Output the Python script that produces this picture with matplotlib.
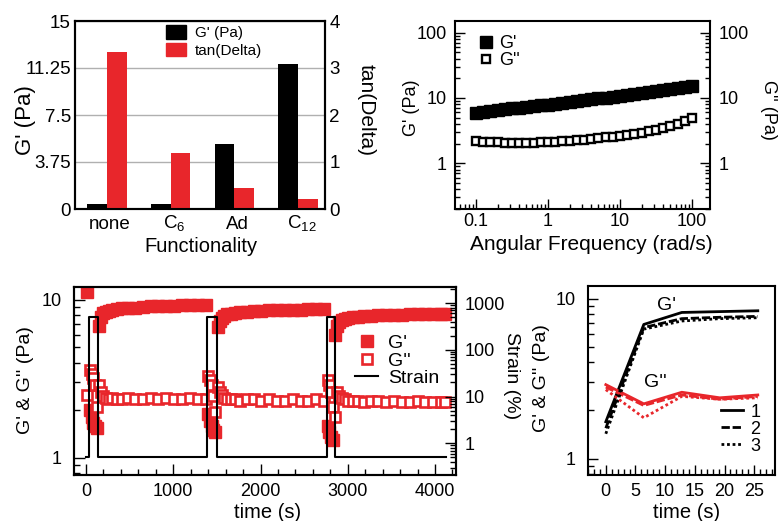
import numpy as np
import matplotlib
matplotlib.use('Agg')
import matplotlib.pyplot as plt
from matplotlib.ticker import LogLocator, NullFormatter, MultipleLocator
from matplotlib.patches import Patch
from matplotlib.transforms import blended_transform_factory

plt.rcParams['font.family'] = ['Liberation Sans', 'DejaVu Sans']
plt.rcParams['mathtext.fontset'] = 'custom'
plt.rcParams['mathtext.rm'] = 'Liberation Sans'
plt.rcParams['axes.linewidth'] = 1.5

RED = '#e8262b'
W, H = 778, 521

# ---- panel A: modulus and tan(delta) per end group
functionality = ['none', 'C$_{\\mathregular{6}}$', 'Ad', 'C$_{\\mathregular{12}}$']
storage_modulus = [0.4, 0.4, 5.2, 11.6]
tan_delta = [3.34, 1.19, 0.45, 0.22]

# ---- panel B: frequency sweep
freq = [0.1, 0.126, 0.158, 0.2, 0.251, 0.316, 0.398, 0.501, 0.631, 0.794,
        1, 1.26, 1.58, 2, 2.51, 3.16, 3.98, 5.01, 6.31, 7.94,
        10, 12.6, 15.8, 20, 25.1, 31.6, 39.8, 50.1, 63.1, 79.4, 100]
gp_freq = [5.9, 6.1, 6.3, 6.5, 6.7, 6.9, 7.1, 7.3, 7.5, 7.7,
           7.9, 8.2, 8.4, 8.7, 8.9, 9.2, 9.5, 9.8, 10.1, 10.4,
           10.8, 11.1, 11.5, 11.9, 12.3, 12.7, 13.2, 13.7, 14.2, 14.7, 15.2]
gpp_freq = [2.2, 2.15, 2.1, 2.1, 2.05, 2.05, 2.05, 2.05, 2.05, 2.1,
            2.1, 2.15, 2.2, 2.2, 2.25, 2.3, 2.35, 2.4, 2.5, 2.55,
            2.65, 2.75, 2.85, 2.95, 3.1, 3.25, 3.45, 3.7, 4.0, 4.5, 5.0]

# ---- panel C: step strain recovery, three cycles
t1 = [15, 45, 65, 85, 105, 125, 150, 170, 195, 225, 260, 300, 350, 410, 480,
      560, 650, 740, 830, 920, 1010, 1100, 1190, 1280, 1375]
gp1 = [11.2, 2.0, 1.8, 1.65, 1.6, 1.55, 6.8, 7.8, 8.2, 8.4, 8.5, 8.6, 8.7, 8.8, 8.85,
       8.9, 9.0, 9.05, 9.1, 9.1, 9.15, 9.2, 9.2, 9.25, 9.25]
gpp1 = [2.5, 3.6, 3.4, 3.2, 2.9, 2.1, 2.9, 2.6, 2.45, 2.4, 2.35, 2.4, 2.35, 2.35, 2.4,
        2.35, 2.35, 2.4, 2.35, 2.4, 2.35, 2.35, 2.4, 2.35, 2.35]
t2 = [1400, 1420, 1440, 1460, 1480, 1510, 1530, 1555, 1585, 1620, 1660, 1710, 1770,
      1840, 1920, 2010, 2100, 2190, 2280, 2370, 2460, 2550, 2640, 2730]
gp2 = [1.9, 1.7, 1.6, 1.5, 1.45, 6.7, 7.3, 7.7, 7.9, 8.05, 8.15, 8.25, 8.35,
       8.4, 8.45, 8.5, 8.55, 8.6, 8.6, 8.65, 8.65, 8.7, 8.7, 8.75]
gpp2 = [3.3, 3.1, 2.9, 2.45, 1.95, 2.8, 2.6, 2.5, 2.4, 2.35, 2.35, 2.35, 2.3,
        2.35, 2.35, 2.3, 2.35, 2.3, 2.3, 2.35, 2.3, 2.3, 2.35, 2.3]
t3 = [2770, 2790, 2810, 2830, 2855, 2875, 2900, 2930, 2965, 3005, 3055, 3115, 3185,
      3265, 3350, 3440, 3530, 3620, 3710, 3800, 3890, 3980, 4070, 4120]
gp3 = [1.6, 1.45, 1.35, 1.3, 6.0, 6.8, 7.2, 7.4, 7.55, 7.65, 7.75, 7.8, 7.85,
       7.9, 7.95, 7.95, 8.0, 8.0, 8.05, 8.05, 8.05, 8.1, 8.1, 8.1]
gpp3 = [3.1, 2.9, 2.6, 2.1, 1.8, 2.6, 2.45, 2.4, 2.35, 2.3, 2.3, 2.3, 2.25,
        2.3, 2.3, 2.25, 2.3, 2.25, 2.25, 2.3, 2.25, 2.25, 2.25, 2.25]
strain_time = [0, 35, 140, 1390, 1505, 2760, 2850, 4130]
strain = [0.5, 500, 0.5, 500, 0.5, 500, 0.5, 0.5]

# ---- panel D: first recovery points of each cycle
time_d = [0, 6.4, 12.8, 19.2, 25.6]
gp_cycles = [[1.7, 6.9, 8.2, 8.3, 8.4],
             [1.55, 6.6, 7.5, 7.65, 7.75],
             [1.43, 6.45, 7.25, 7.5, 7.6]]
gpp_cycles = [[2.9, 2.2, 2.6, 2.4, 2.5],
              [2.8, 2.15, 2.5, 2.35, 2.45],
              [2.7, 1.8, 2.45, 2.35, 2.4]]
cycle_names = ['1', '2', '3']
cycle_styles = ['-', (0, (3, 1)), (0, (1, 1))]


def box(left, top, right, bottom):
    return [left / W, 1 - bottom / H, (right - left) / W, (bottom - top) / H]


def at(x, y):
    return x / W, 1 - y / H


def log_minor(axis):
    axis.set_minor_locator(LogLocator(base=10, subs=np.arange(2, 10), numticks=20))
    axis.set_minor_formatter(NullFormatter())


fig = plt.figure(figsize=(7.78, 5.21), dpi=100)

# panel A
axA = fig.add_axes(box(75, 21, 325, 209))
x = np.arange(len(functionality))
bw = 0.31
axA.bar(x - bw / 2, storage_modulus, bw, color='black', zorder=3)
axA.set_xlim(-0.5, 3.42)
axA.set_ylim(0, 15)
axA.set_yticks([0, 3.75, 7.5, 11.25, 15])
axA.set_yticklabels(['0', '3.75', '7.5', '11.25', '15'])
axA.set_xticks(x)
axA.set_xticklabels([])
# category names on a common baseline (subscripts hang below)
trA = blended_transform_factory(axA.transData, axA.transAxes)
for xi, name in zip(x, functionality):
    axA.text(xi + 0.05, -0.105, name, transform=trA, ha='center', va='baseline',
             fontsize=13.5)
axA.yaxis.grid(True, color='#b0b0b0', lw=1, zorder=0)
axA.set_axisbelow(True)
axA.tick_params(length=0, labelsize=13.5)
axA.tick_params(axis='y', pad=3)
axA2 = axA.twinx()
axA2.bar(x + bw / 2, tan_delta, bw, color=RED)
axA2.set_ylim(0, 4)
axA2.set_yticks([0, 1, 2, 3, 4])
axA2.tick_params(length=0, labelsize=13.5, pad=3)
axA2.legend([Patch(color='black'), Patch(color=RED)], ["G' (Pa)", 'tan(Delta)'],
            loc='upper left', bbox_to_anchor=(0.31, 1.05), frameon=False,
            fontsize=11, handlelength=1.3, handleheight=1.0, labelspacing=0.15,
            handletextpad=0.6)
fig.text(*at(25, 120), "G' (Pa)", rotation=90, ha='center', va='center', fontsize=16)
fig.text(*at(366, 110), 'tan(Delta)', rotation=270, ha='center', va='center', fontsize=15)
fig.text(*at(201, 246), 'Functionality', ha='center', va='center', fontsize=14.5)

# panel B
axB = fig.add_axes(box(455, 21, 710, 209))
axB.plot(freq, gp_freq, 's', color='black', ms=8.2, label="G'")
axB.plot(freq, gpp_freq, 's', mfc='white', mec='black', ms=5.8, mew=1.7, label="G''")
axB.set_xscale('log')
axB.set_yscale('log')
axB.set_xlim(0.051, 178)
axB.set_ylim(0.2, 150)
axB.set_xticks([0.1, 1, 10, 100])
axB.set_xticklabels(['0.1', '1', '10', '100'])
axB.set_yticks([1, 10, 100])
axB.set_yticklabels(['1', '10', '100'])
log_minor(axB.xaxis)
log_minor(axB.yaxis)
axB.tick_params(which='both', direction='in', right=True, labelright=True,
                labelsize=13, width=1)
axB.tick_params(which='major', length=7)
axB.tick_params(which='minor', length=3.5)
axB.tick_params(axis='y', pad=6)
axB.tick_params(axis='x', pad=3)
axB.legend(loc='upper left', bbox_to_anchor=(0.03, 1.0), frameon=False, fontsize=13,
           labelspacing=0.0, handletextpad=0.2, handlelength=1.0, borderpad=0.3)
fig.text(*at(412, 108), "G' (Pa)", rotation=90, ha='center', va='center', fontsize=13)
fig.text(*at(768, 110), "G'' (Pa)", rotation=270, ha='center', va='center', fontsize=13)
fig.text(*at(591, 245), 'Angular Frequency (rad/s)', ha='center', va='center', fontsize=15)

# panel C
axC = fig.add_axes(box(74, 287, 456, 475))
t_all = t1 + t2 + t3
hp, = axC.plot(t_all, gp1 + gp2 + gp3, 's', color=RED, ms=8, label="G'")
hpp, = axC.plot(t_all, gpp1 + gpp2 + gpp3, 's', mfc='white', mec=RED, ms=6.5,
                mew=1.9, label="G''")
axC.set_yscale('log')
axC.set_xlim(-138, 4241)
axC.set_ylim(0.78, 12)
axC.set_yticks([1, 10])
axC.set_yticklabels(['1', '10'])
log_minor(axC.yaxis)
axC.xaxis.set_major_locator(MultipleLocator(1000))
axC.xaxis.set_minor_locator(MultipleLocator(200))
axC.tick_params(which='both', direction='in', labelsize=13, width=1)
axC.tick_params(which='major', length=8)
axC.tick_params(which='minor', length=4)
axC.tick_params(axis='y', pad=9)
axC.tick_params(axis='x', pad=6)
axC2 = axC.twinx()
hs, = axC2.plot(strain_time, strain, color='black', lw=1.5, drawstyle='steps-post',
                label='Strain')
axC2.set_yscale('log')
axC2.set_ylim(0.21, 2200)
axC2.set_yticks([1, 10, 100, 1000])
axC2.set_yticklabels(['1', '10', '100', '1000'])
log_minor(axC2.yaxis)
axC2.tick_params(which='both', direction='in', labelsize=13, width=1, pad=6)
axC2.tick_params(which='major', length=8)
axC2.tick_params(which='minor', length=4)
axC2.legend(handles=[hp, hpp, hs], loc='upper left', bbox_to_anchor=(0.70, 0.82),
            frameon=False, fontsize=14, labelspacing=0.0, handletextpad=0.5,
            handlelength=1.2, borderpad=0.2)
fig.text(*at(25, 380), "G' & G'' (Pa)", rotation=90, ha='center', va='center', fontsize=14)
fig.text(*at(512, 376), 'Strain (%)', rotation=270, ha='center', va='center', fontsize=14)
fig.text(*at(268, 512), 'time (s)', ha='center', va='center', fontsize=14.5)

# panel D
axD = fig.add_axes(box(588, 286, 775, 475))
handles = []
for gp, gpp, ls, name in zip(gp_cycles, gpp_cycles, cycle_styles, cycle_names):
    h, = axD.plot(time_d, gp, color='black', ls=ls, lw=2, label=name)
    axD.plot(time_d, gpp, color=RED, ls=ls, lw=2)
    handles.append(h)
axD.set_yscale('log')
axD.set_xlim(-3, 28.5)
axD.set_ylim(0.79, 12)
axD.set_yticks([1, 10])
axD.set_yticklabels(['1', '10'])
log_minor(axD.yaxis)
axD.xaxis.set_major_locator(MultipleLocator(5))
axD.xaxis.set_minor_locator(MultipleLocator(1))
axD.tick_params(which='both', direction='in', labelsize=13, width=1)
axD.tick_params(which='major', length=7)
axD.tick_params(which='minor', length=4)
axD.tick_params(axis='y', pad=9)
axD.tick_params(axis='x', pad=6)
axD.text(10.2, 9.0, "G'", ha='center', va='center', fontsize=14)
axD.text(8.3, 3.0, "G''", ha='center', va='center', fontsize=14)
axD.legend(handles=handles, loc='lower right', bbox_to_anchor=(0.97, 0.06),
           frameon=False, fontsize=13, labelspacing=0.0, handlelength=1.2,
           handletextpad=0.4, borderpad=0.0)
fig.text(*at(542, 378), "G' & G'' (Pa)", rotation=90, ha='center', va='center', fontsize=14)
fig.text(*at(687, 512), 'time (s)', ha='center', va='center', fontsize=14.5)

fig.savefig('out.png', dpi=100)
